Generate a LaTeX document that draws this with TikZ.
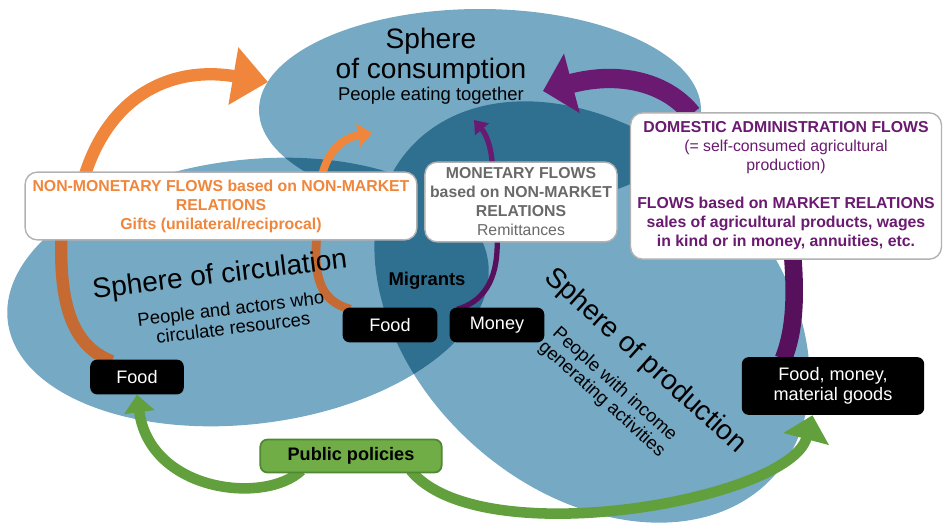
\documentclass[tikz,border=0pt]{standalone}
\usepackage{fontspec}
\setmainfont{Liberation Sans}
\usetikzlibrary{calc}
\usetikzlibrary{positioning}
\usetikzlibrary{arrows.meta}
\usetikzlibrary{backgrounds}

\definecolor{spherelight}{RGB}{118,169,196}
\definecolor{spheredark}{RGB}{47,112,145}
\definecolor{giftorange}{RGB}{240,134,60}
\definecolor{giftorangedark}{RGB}{196,106,50}
\definecolor{flowpurple}{RGB}{106,26,112}
\definecolor{flowpurpledark}{RGB}{86,16,92}
\definecolor{policygreen}{RGB}{112,173,71}
\definecolor{policyborder}{RGB}{80,135,50}
\definecolor{policyarrow}{RGB}{98,160,62}
\definecolor{remitgray}{RGB}{105,105,105}

\begin{document}
\begin{tikzpicture}[x=0.02cm, y=-0.02cm,
    flowbox/.style={rectangle, rounded corners=7pt, draw=black!30, line width=0.8pt, fill=white, align=center, inner sep=1pt, font=\bfseries\fontsize{9}{10.8}\selectfont},
    itembox/.style={rectangle, rounded corners=4pt, fill=black, text=white, align=center, inner sep=1pt, font=\fontsize{10.3}{11.4}\selectfont},
    spheretitle/.style={align=center, font=\fontsize{16}{17}\selectfont},
    spherenote/.style={align=center, font=\fontsize{10.5}{11}\selectfont},
    bigflow/.style={line width=7pt, -{Triangle[length=20pt, width=32pt]}},
    smallflow/.style={line width=#1, -{Triangle[length=8pt, width=13pt]}},
    policyflow/.style={draw=policyarrow, line width=6pt},
    prodshape/.style={rotate around={-42:(592,312)}},
    circshape/.style={rotate around={7:(248,292)}}]
    \useasboundingbox (0,0) rectangle (943,527);

    % the three spheres
    \begin{scope}[on background layer]
        \fill[spherelight] (480,110) ellipse [x radius=221, y radius=101];
        \fill[spherelight, circshape] (248,292) ellipse [x radius=242, y radius=132];
        \fill[spherelight, prodshape] (592,312) ellipse [x radius=245, y radius=178];
        \begin{scope}
            \clip[prodshape] (592,312) ellipse [x radius=245, y radius=178];
            \fill[spheredark] (480,110) ellipse [x radius=221, y radius=101];
            \fill[spheredark, circshape] (248,292) ellipse [x radius=242, y radius=132];
        \end{scope}
        \begin{scope}
            \clip (480,110) ellipse [x radius=221, y radius=101];
            \fill[spheredark, circshape] (248,292) ellipse [x radius=242, y radius=132];
        \end{scope}
    \end{scope}

    % sphere labels
    \node[spheretitle] (constitle) at (431,56) {Sphere\\of consumption};
    \node[spherenote] (consnote) at (431,96) {People eating together};
    \node[spheretitle, rotate=7] (circtitle) at (220,276) {Sphere of circulation};
    \node[spherenote, rotate=7] (circnote) at (232,318) {People and actors who\\circulate resources};
    \node[spheretitle, rotate=-42] (prodtitle) at (645,361) {Sphere of production};
    \node[spherenote, rotate=-42] (prodnote) at (608,392) {People with income\\generating activities};
    \node[font=\bfseries\fontsize{10.5}{12}\selectfont] (migrants) at (427,281) {Migrants};

    % flow boxes
    \node[flowbox, minimum width=223pt, minimum height=38.6pt, text=giftorange] (nonmon) at (221,206)
        {NON-MONETARY FLOWS based on NON-MARKET\\RELATIONS\\Gifts (unilateral/reciprocal)};
    \node[flowbox, minimum width=109.4pt, minimum height=45.4pt, text=remitgray] (monet) at (521,202)
        {MONETARY FLOWS\\based on NON-MARKET\\RELATIONS\\\mdseries Remittances};
    \node[flowbox, minimum width=177pt, minimum height=83.3pt, text=flowpurple] (domestic) at (786,186)
        {DOMESTIC ADMINISTRATION FLOWS\\\mdseries (= self-consumed agricultural\\\mdseries production)\\[10.8pt]FLOWS based on MARKET RELATIONS\\sales of agricultural products, wages\\in kind or in money, annuities, etc.};

    % resources
    \node[itembox, minimum width=53.3pt, minimum height=19.8pt] (foodL) at (137,377) {Food};
    \node[itembox, minimum width=53.9pt, minimum height=19.8pt] (foodM) at (390,325) {Food};
    \node[itembox, minimum width=53.9pt, minimum height=19.8pt] (money) at (497,325) {Money};
    \node[itembox, minimum width=103.8pt, minimum height=32.9pt] (goods) at (833,386) {Food, money,\\material goods};
    \node[rectangle, rounded corners=4pt, fill=policygreen, draw=policyborder, line width=1pt, minimum width=103.2pt, minimum height=18.7pt, font=\bfseries\fontsize{10.3}{12}\selectfont] (policy) at (351,456) {Public policies};

    % targets in the sphere of consumption
    \coordinate (consleft) at (268,82);
    \coordinate (consmid) at (372,133);
    \coordinate (consin) at (474,120);
    \coordinate (consright) at (543,91);

    \begin{scope}[on background layer]
        % non-monetary flows
        \draw[giftorangedark, line width=7pt] ($(nonmon.south west)+(37,-2)$) .. controls (59,315) and (78,348) .. ($(foodL.north west)+(22,2)$);
        \draw[giftorange, bigflow] ($(nonmon.north west)+(61,2)$) .. controls (112,92) and (175,66) .. (consleft);
        \draw[giftorangedark, line width=5pt] ($(nonmon.south east)+(-101,-2)$) .. controls (313,285) and (325,302) .. ($(foodM.north west)+(8,2)$);
        \draw[giftorange, smallflow=4.5pt] ($(nonmon.north east)+(-95,2)$) .. controls (328,152) and (342,138) .. (consmid);
        % monetary flows
        \draw[flowpurpledark, line width=3pt] ($(monet.south west)+(73,-2)$) .. controls (498,282) and (482,302) .. ($(money.north west)+(8,2)$);
        \draw[flowpurple, line width=3pt, -{Triangle[length=7pt, width=10pt]}] ($(monet.north west)+(68,2)$) .. controls (491,146) and (486,134) .. (consin);
        % domestic administration and market flows
        \draw[flowpurpledark, line width=10pt] ($(domestic.south west)+(163,-2)$) .. controls (796,300) and (794,332) .. ($(goods.north west)+(42,2)$);
        \draw[flowpurple, line width=11pt, -{Triangle[length=17pt, width=34pt]}] ($(domestic.north west)+(62,2)$) .. controls (668,84) and (622,70) .. (consright);
        % public policies
        \draw[policyflow, -{Triangle[length=10pt, width=17pt]}] ($(policy.south west)+(42,-3)$) .. controls (265,505) and (150,492) .. (foodL.south);
        \draw[policyflow, -{Triangle[length=14pt, width=26pt]}] ($(policy.south east)+(-32,-3)$) .. controls (480,555) and (790,500) .. ($(goods.south west)+(71,0)$);
    \end{scope}
\end{tikzpicture}
\end{document}
